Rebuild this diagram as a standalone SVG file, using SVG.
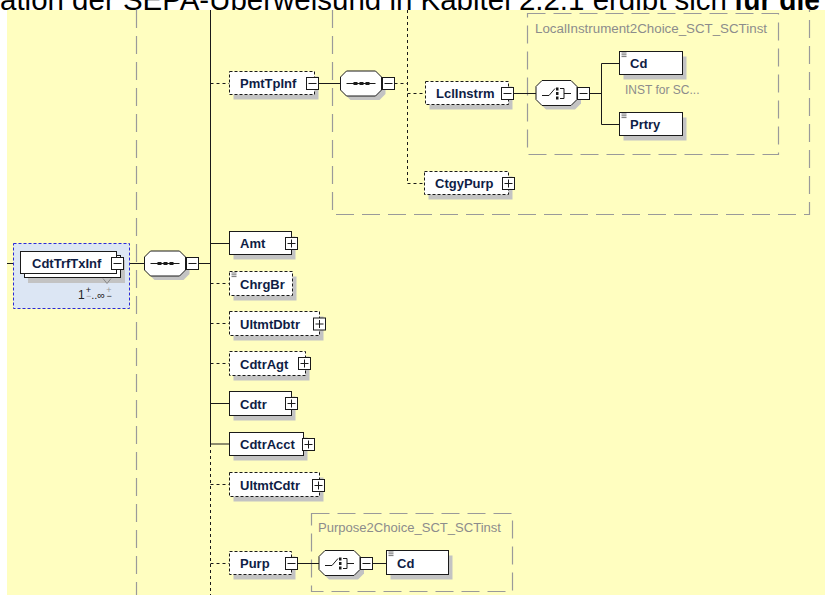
<svg xmlns="http://www.w3.org/2000/svg" xmlns:xlink="http://www.w3.org/1999/xlink" width="825" height="595" viewBox="0 0 825 595">
<style>
.n{fill:#fff;stroke:#1a1a1a;stroke-width:1}
.nd{fill:#fff;stroke:#1a1a1a;stroke-width:1;stroke-dasharray:3 2}
.sh{fill:#c3c3c3}
.t{font-family:"Liberation Sans",Arial,sans-serif;font-weight:bold;font-size:13px;fill:#0f1d45}
.c{stroke:#1a1a1a;stroke-width:1;fill:none}
.cd{stroke:#1a1a1a;stroke-width:1;stroke-dasharray:3 3;fill:none}
.g{stroke:#9a9a9a;stroke-width:1.2;stroke-dasharray:18 8;fill:none}
.gt{font-family:"Liberation Sans",Arial,sans-serif;font-size:12px;fill:#8c8c8c}
.hd{font-family:"Liberation Sans",Arial,sans-serif;font-size:29.5px;fill:#000}
.occ{font-family:"Liberation Sans",Arial,sans-serif;fill:#222}
</style>
<defs>
<g id="minus"><rect x="0" y="0" width="12" height="12" fill="#fff" stroke="#1a1a1a"/><line x1="2" y1="6" x2="10" y2="6" stroke="#1a1a1a"/></g>
<g id="plus"><rect x="0" y="0" width="12" height="12" fill="#fff" stroke="#1a1a1a"/><line x1="2" y1="6" x2="10" y2="6" stroke="#1a1a1a"/><line x1="6" y1="2" x2="6" y2="10" stroke="#1a1a1a"/></g>
<path id="oct" d="M6,0 H35 L41,6 V19 L35,25 H6 L0,19 V6 Z"/>
<g id="seq"><use xlink:href="#oct" x="4" y="4" fill="#c3c3c3"/><use xlink:href="#oct" fill="#fff" stroke="#1a1a1a"/><line x1="6" y1="12.5" x2="35" y2="12.5" stroke="#1a1a1a"/><rect x="13" y="11" width="4" height="3" fill="#1a1a1a"/><rect x="19" y="11" width="4" height="3" fill="#1a1a1a"/><rect x="25" y="11" width="4" height="3" fill="#1a1a1a"/></g>
<g id="cho"><use xlink:href="#oct" x="4" y="4" fill="#c3c3c3"/><use xlink:href="#oct" fill="#fff" stroke="#1a1a1a"/><path d="M6,15 H13 L19,8" stroke="#1a1a1a" fill="none"/><rect x="20" y="7" width="2.5" height="3" fill="#1a1a1a"/><rect x="20" y="11.5" width="2.5" height="3" fill="#1a1a1a"/><rect x="20" y="16" width="2.5" height="3" fill="#1a1a1a"/><path d="M24,8 H28 V18 H24 M28,13 H35" stroke="#1a1a1a" fill="none"/></g>
<g id="ic"><path d="M0,0.5 H5 M0,2.3 H5 M0,4.1 H5" stroke="#1a1a1a" stroke-width="0.6"/></g>
</defs>

<text class="hd" x="0" y="9.5" textLength="727" lengthAdjust="spacingAndGlyphs">ation der SEPA-Überweisung in Kapitel 2.2.1 ergibt sich</text>
<text class="hd" x="734" y="9.5" font-weight="bold" textLength="86" lengthAdjust="spacingAndGlyphs">für die</text>
<rect x="7" y="10" width="818" height="585" fill="#FFFEC0"/>

<g id="guides">
<line class="g" x1="136.5" y1="10" x2="136.5" y2="595" stroke-dasharray="21 8"/>
<path class="g" d="M332.5,10 V214.5 H809.5 V10" stroke-dasharray="20 8"/>
<rect class="g" x="527.5" y="13.5" width="251" height="141"/>
<text class="gt" x="535" y="32.5" textLength="232" lengthAdjust="spacingAndGlyphs">LocalInstrument2Choice_SCT_SCTinst</text>
<rect class="g" x="311.5" y="513.5" width="201" height="78"/>
<text class="gt" x="318" y="532" font-size="13" textLength="183" lengthAdjust="spacingAndGlyphs">Purpose2Choice_SCT_SCTinst</text>
</g>

<g id="connectors">
<line class="c" x1="7" y1="263.5" x2="20.5" y2="263.5"/>
<line class="c" x1="123.5" y1="263.5" x2="144.5" y2="263.5"/>
<line class="c" x1="198.5" y1="263.5" x2="210.5" y2="263.5"/>
<line class="c" x1="210.5" y1="10" x2="210.5" y2="444"/>
<line class="cd" x1="210.5" y1="444" x2="210.5" y2="595"/>
<line class="cd" x1="210.5" y1="83.5" x2="229.5" y2="83.5"/>
<line class="c" x1="318.5" y1="83.5" x2="340.5" y2="83.5"/>
<line class="cd" x1="394.5" y1="83.5" x2="407.5" y2="83.5"/>
<line class="cd" x1="407.5" y1="10" x2="407.5" y2="183.5"/>
<line class="cd" x1="407.5" y1="93.5" x2="425.5" y2="93.5"/>
<line class="cd" x1="407.5" y1="183.5" x2="424.5" y2="183.5"/>
<line class="c" x1="513.5" y1="93.5" x2="536" y2="93.5"/>
<path class="c" d="M589.5,93.5 H601.5 M619.5,63.5 H601.5 V124.5 H619.5"/>
<line class="c" x1="210.5" y1="243.5" x2="229.5" y2="243.5"/>
<line class="cd" x1="210.5" y1="283.5" x2="229.5" y2="283.5"/>
<line class="cd" x1="210.5" y1="323.5" x2="229.5" y2="323.5"/>
<line class="cd" x1="210.5" y1="363.5" x2="229.5" y2="363.5"/>
<line class="c" x1="210.5" y1="403.5" x2="229.5" y2="403.5"/>
<line class="c" x1="210.5" y1="444" x2="229.5" y2="444"/>
<line class="cd" x1="210.5" y1="484.5" x2="229.5" y2="484.5"/>
<line class="cd" x1="210.5" y1="563.5" x2="229.5" y2="563.5"/>
<line class="c" x1="297.5" y1="563.5" x2="319" y2="563.5"/>
<line class="c" x1="372.5" y1="563.5" x2="386.5" y2="563.5"/>
</g>

<g id="CdtTrfTxInf">
<rect x="13.5" y="243.5" width="116" height="65" fill="#DCE6F4" stroke="#2a2ad8" stroke-dasharray="3 2"/>
<rect class="sh" x="28" y="260" width="97" height="23"/>
<rect class="n" x="24.5" y="255.5" width="96" height="22"/>
<rect class="n" x="20.5" y="251.5" width="96" height="22"/>
<text class="t" x="32" y="267.5">CdtTrfTxInf</text>
<use xlink:href="#minus" x="111.5" y="257.5"/>
<path d="M103,278.5 L107,283.5 L111,278.5" fill="none" stroke="#888"/>
<text class="occ" x="78" y="299" font-size="12">1<tspan font-size="9" dx="1" dy="-6">+</tspan><tspan font-size="9" dx="-5" dy="6" fill="#999">−</tspan><tspan font-size="11" dx="0">..∞</tspan><tspan font-size="9" dx="1" dy="-6" fill="#999">+</tspan><tspan font-size="9" dx="-5" dy="6">−</tspan></text>
</g>

<g id="seqMain"><use xlink:href="#seq" x="144.5" y="251"/><use xlink:href="#minus" x="186.5" y="257.5"/></g>

<g id="PmtTpInf">
<rect class="sh" x="233.5" y="76.5" width="85" height="23"/>
<rect class="nd" x="229.5" y="71.5" width="85" height="23"/>
<text class="t" x="240" y="88">PmtTpInf</text>
<use xlink:href="#minus" x="306.5" y="77.5"/>
</g>

<g id="seqPmt"><use xlink:href="#seq" x="340.5" y="71"/><use xlink:href="#minus" x="382.5" y="77.5"/></g>

<g id="LclInstrm">
<rect class="sh" x="429.5" y="86.5" width="83" height="23"/>
<rect class="nd" x="425.5" y="81.5" width="83" height="23"/>
<text class="t" x="436" y="98">LclInstrm</text>
<use xlink:href="#minus" x="501.5" y="87.5"/>
</g>

<g id="CtgyPurp">
<rect class="sh" x="428.5" y="176.5" width="84" height="23"/>
<rect class="nd" x="424.5" y="171.5" width="84" height="23"/>
<text class="t" x="435" y="188">CtgyPurp</text>
<use xlink:href="#plus" x="502.5" y="177.5"/>
</g>

<g id="choiceLcl"><use xlink:href="#cho" x="536" y="80.5"/><use xlink:href="#minus" x="577.5" y="87.5"/></g>

<g id="Cd">
<rect class="sh" x="623.5" y="56.5" width="63" height="23"/>
<rect class="n" x="619.5" y="51.5" width="63" height="23"/>
<use xlink:href="#ic" x="621.5" y="52.5"/>
<text class="t" x="630" y="68">Cd</text>
<text class="gt" x="625" y="94" font-size="11" fill="#a0a0a0">INST for SC...</text>
</g>

<g id="Prtry">
<rect class="sh" x="623.5" y="117.5" width="63" height="23"/>
<rect class="n" x="619.5" y="112.5" width="63" height="23"/>
<use xlink:href="#ic" x="621.5" y="113.5"/>
<text class="t" x="630" y="129">Prtry</text>
</g>

<g id="Amt">
<rect class="sh" x="233.5" y="236.5" width="62" height="23"/>
<rect class="n" x="229.5" y="231.5" width="62" height="23"/>
<text class="t" x="240" y="248">Amt</text>
<use xlink:href="#plus" x="285.5" y="237.5"/>
</g>

<g id="ChrgBr">
<rect class="sh" x="233.5" y="276.5" width="63" height="24"/>
<rect class="nd" x="229.5" y="271.5" width="63" height="24"/>
<use xlink:href="#ic" x="231.5" y="272.5"/>
<text class="t" x="240" y="288.5">ChrgBr</text>
</g>

<g id="UltmtDbtr">
<rect class="sh" x="233.5" y="316.5" width="90" height="24"/>
<rect class="nd" x="229.5" y="311.5" width="90" height="24"/>
<text class="t" x="240" y="328.5">UltmtDbtr</text>
<use xlink:href="#plus" x="313.5" y="318"/>
</g>

<g id="CdtrAgt">
<rect class="sh" x="233.5" y="356.5" width="76" height="24"/>
<rect class="nd" x="229.5" y="351.5" width="76" height="24"/>
<text class="t" x="240" y="368.5">CdtrAgt</text>
<use xlink:href="#plus" x="298.5" y="357.5"/>
</g>

<g id="Cdtr">
<rect class="sh" x="233.5" y="396.5" width="62" height="24"/>
<rect class="n" x="229.5" y="391.5" width="62" height="24"/>
<text class="t" x="240" y="408.5">Cdtr</text>
<use xlink:href="#plus" x="285.5" y="397.5"/>
</g>

<g id="CdtrAcct">
<rect class="sh" x="233.5" y="437.5" width="74" height="23"/>
<rect class="n" x="229.5" y="432.5" width="74" height="23"/>
<text class="t" x="240" y="449">CdtrAcct</text>
<use xlink:href="#plus" x="302.5" y="438.5"/>
</g>

<g id="UltmtCdtr">
<rect class="sh" x="233.5" y="477.5" width="90" height="24"/>
<rect class="nd" x="229.5" y="472.5" width="90" height="24"/>
<text class="t" x="240" y="489.5">UltmtCdtr</text>
<use xlink:href="#plus" x="312.5" y="479.5"/>
</g>

<g id="Purp">
<rect class="sh" x="233.5" y="556.5" width="62" height="23"/>
<rect class="nd" x="229.5" y="551.5" width="62" height="23"/>
<text class="t" x="240" y="568">Purp</text>
<use xlink:href="#minus" x="285.5" y="557.5"/>
</g>

<g id="choicePurp"><use xlink:href="#cho" x="319" y="550.5"/><use xlink:href="#minus" x="360.5" y="557.5"/></g>

<g id="CdPurp">
<rect class="sh" x="390.5" y="555.5" width="62" height="24"/>
<rect class="n" x="386.5" y="550.5" width="62" height="24"/>
<use xlink:href="#ic" x="388.5" y="551.5"/>
<text class="t" x="397" y="568">Cd</text>
</g>
</svg>
